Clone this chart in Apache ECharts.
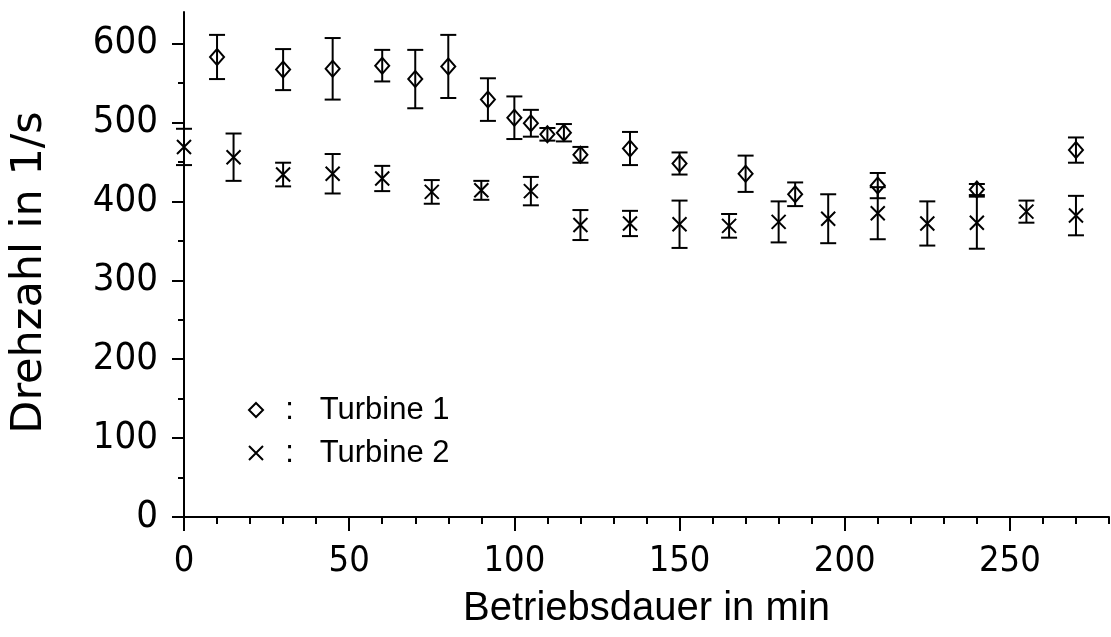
<!DOCTYPE html>
<html>
<head>
<meta charset="utf-8">
<script src="https://cdn.jsdelivr.net/npm/echarts@6/dist/echarts.min.js"></script>
<style>
  html, body { margin: 0; padding: 0; background: #fff; }
  #chart { width: 1111px; height: 637px; }
</style>
</head>
<body>
<div id="chart"></div>
<script>
// Turbine 1 (diamonds): time in min, speed in 1/s, half error bar
var t1Time = [10, 30, 45, 60, 70, 80, 92, 100, 105, 110, 115, 120, 135, 150, 170, 185, 210, 240, 270];
var t1Speed = [583, 567, 568, 572, 555, 571, 529, 506, 499, 485, 487, 459, 467, 448, 435, 409, 420, 415, 465];
var t1Err = [28, 26, 39, 20, 37, 40, 27, 27, 17, 8, 11, 10, 21, 14, 23, 15, 16, 7, 16];

// Turbine 2 (crosses)
var t2Time = [0, 15, 30, 45, 60, 75, 90, 105, 120, 135, 150, 165, 180, 195, 210, 225, 240, 255, 270];
var t2Speed = [469, 456, 434, 435, 429, 412, 414, 413, 370, 372, 371, 369, 374, 378, 385, 372, 373, 387, 382];
var t2Err = [23, 30, 15, 25, 16, 15, 12, 18, 19, 16, 30, 15, 26, 31, 33, 28, 33, 14, 25];

// axis ticks
var xMajor = [0, 50, 100, 150, 200, 250];
var xMinor = [10, 20, 30, 40, 60, 70, 80, 90, 110, 120, 130, 140, 160, 170, 180, 190, 210, 220, 230, 240, 260, 270, 280];
var yMajor = [0, 100, 200, 300, 400, 500, 600];
var yMinor = [50, 150, 250, 350, 450, 550];

var names = ['Turbine 1', 'Turbine 2'];

function pts(xs, ys) {
  return xs.map(function (x, i) { return [x, ys[i]]; });
}
function bars(xs, ys, es) {
  return xs.map(function (x, i) { return [x, ys[i] - es[i], ys[i] + es[i]]; });
}

function errRender(params, api) {
  var x = api.value(0);
  var lo = api.coord([x, api.value(1)]);
  var hi = api.coord([x, api.value(2)]);
  var w = 8;
  var st = { stroke: '#000', lineWidth: 2 };
  return {
    type: 'group',
    children: [
      { type: 'line', shape: { x1: hi[0], y1: hi[1], x2: lo[0], y2: lo[1] }, style: st },
      { type: 'line', shape: { x1: hi[0] - w, y1: hi[1], x2: hi[0] + w, y2: hi[1] }, style: st },
      { type: 'line', shape: { x1: lo[0] - w, y1: lo[1], x2: lo[0] + w, y2: lo[1] }, style: st }
    ]
  };
}

var numFont = "'DejaVu Sans Condensed', 'Liberation Sans', sans-serif";
var crossPath = 'path://M0,0L10,10M10,0L0,10';

var chart = echarts.init(document.getElementById('chart'));
var option = {
  backgroundColor: '#fff',
  animation: false,
  grid: { left: 184, right: 2, top: 12, bottom: 120, outerBoundsMode: 'none' },
  legend: {
    orient: 'vertical',
    left: 248,
    top: 394,
    padding: 0,
    itemWidth: 14,
    itemHeight: 14,
    itemGap: 11,
    data: names,
    formatter: function (n) { return '  :   ' + n; },
    textStyle: { fontFamily: 'Liberation Sans', fontSize: 31, lineHeight: 32, color: '#000' }
  },
  xAxis: [
    {
      type: 'value', min: 0, max: 280, interval: 10,
      name: 'Betriebsdauer in min',
      nameLocation: 'middle',
      nameGap: 72,
      nameTextStyle: { fontFamily: 'Liberation Sans', fontSize: 40, color: '#000' },
      axisLine: { lineStyle: { color: '#000', width: 2 } },
      axisTick: { length: 7, lineStyle: { color: '#000', width: 2 }, customValues: xMinor },
      axisLabel: { margin: 27, customValues: xMajor, fontFamily: numFont, fontSize: 36, color: '#000' },
      splitLine: { show: false }
    },
    {
      type: 'value', min: 0, max: 280, interval: 50, position: 'bottom',
      axisLine: { show: false },
      axisTick: { length: 14, lineStyle: { color: '#000', width: 2 }, customValues: xMajor },
      axisLabel: { show: false },
      splitLine: { show: false }
    }
  ],
  yAxis: [
    {
      type: 'value', min: 0, max: 640, interval: 100,
      name: 'Drehzahl in 1/s',
      nameLocation: 'middle',
      nameGap: 133,
      nameTextStyle: { fontFamily: 'DejaVu Sans', fontSize: 43, color: '#000', padding: [0, 16, 0, 0] },
      axisLine: { show: true, lineStyle: { color: '#000', width: 2 } },
      axisTick: { show: true, length: 12, lineStyle: { color: '#000', width: 2 }, customValues: yMajor },
      axisLabel: { margin: 26, customValues: yMajor, fontFamily: numFont, fontSize: 38, color: '#000' },
      splitLine: { show: false }
    },
    {
      type: 'value', min: 0, max: 640, interval: 50, position: 'left',
      axisLine: { show: false },
      axisTick: { show: true, length: 6, lineStyle: { color: '#000', width: 2 }, customValues: yMinor },
      axisLabel: { show: false },
      splitLine: { show: false }
    }
  ],
  series: [
    {
      type: 'custom', renderItem: errRender, silent: true,
      data: bars(t1Time, t1Speed, t1Err), z: 2
    },
    {
      type: 'custom', renderItem: errRender, silent: true,
      data: bars(t2Time, t2Speed, t2Err), z: 2
    },
    {
      name: names[0], type: 'scatter', symbol: 'diamond', symbolSize: [14, 16],
      itemStyle: { color: 'rgba(0,0,0,0)', borderColor: '#000', borderWidth: 2, opacity: 1 },
      data: pts(t1Time, t1Speed), z: 3
    },
    {
      name: names[1], type: 'scatter', symbol: crossPath, symbolSize: [14, 14],
      itemStyle: { color: 'rgba(0,0,0,0)', borderColor: '#000', borderWidth: 2, opacity: 1 },
      data: pts(t2Time, t2Speed), z: 3
    }
  ]
};
chart.setOption(option);
</script>
</body>
</html>
